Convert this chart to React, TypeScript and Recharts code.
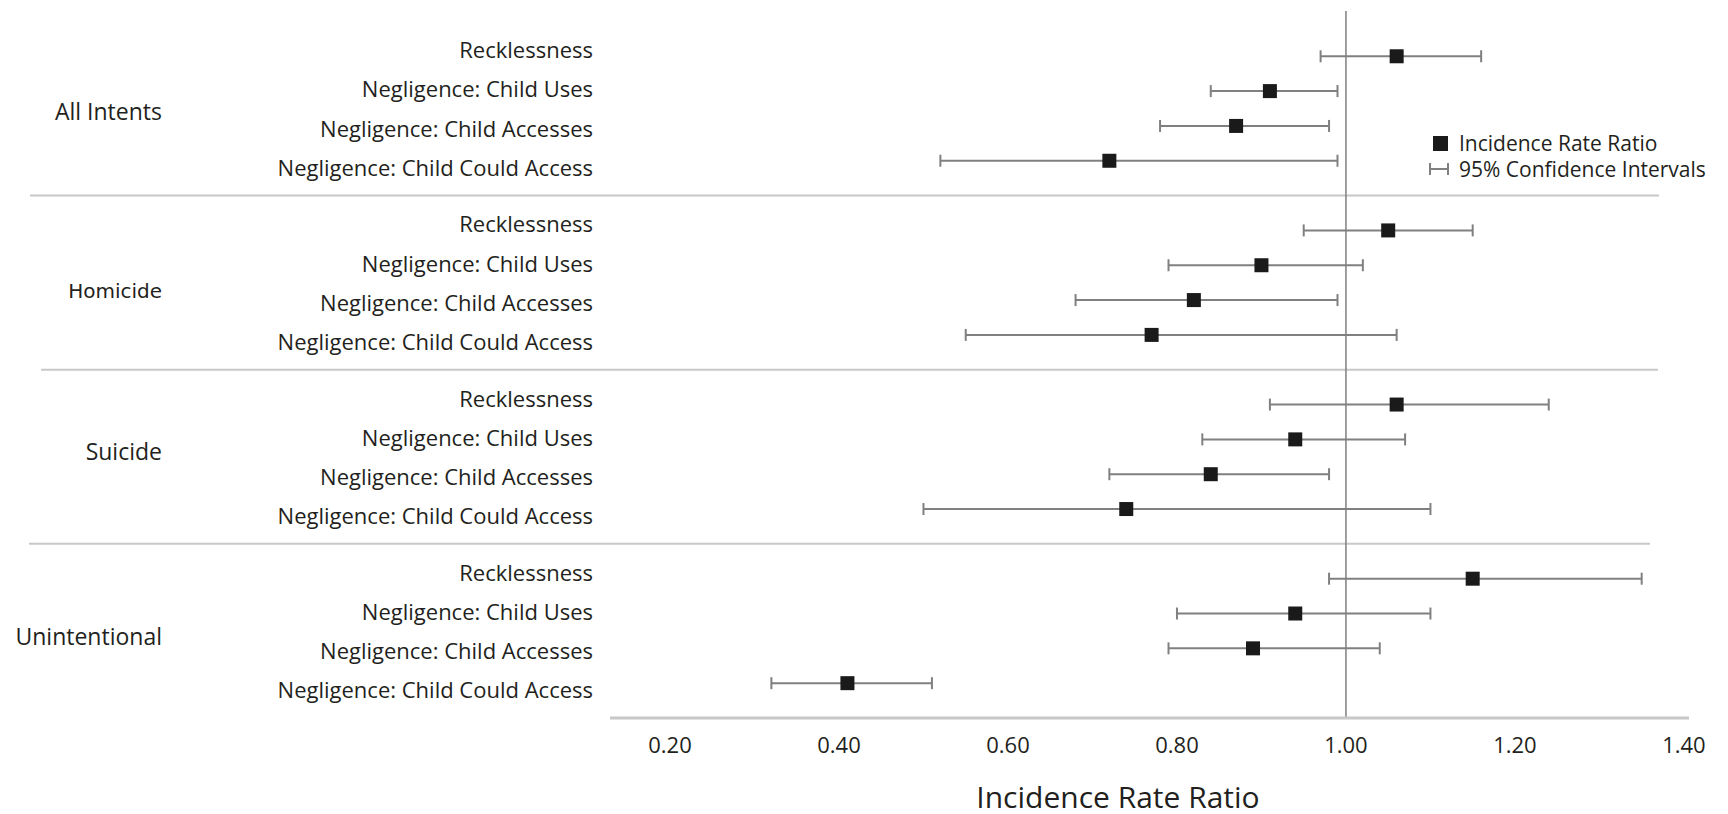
import { ScatterChart, Scatter, XAxis, YAxis, ErrorBar, ReferenceLine } from 'recharts';

const groups = ['All Intents', 'Homicide', 'Suicide', 'Unintentional'];
const measures = [
  'Recklessness',
  'Negligence: Child Uses',
  'Negligence: Child Accesses',
  'Negligence: Child Could Access',
];

// incidence rate ratios and 95% CI, one array per intent group (order = measures)
const allIntentsIrr = [1.06, 0.91, 0.87, 0.72];
const allIntentsLow = [0.97, 0.84, 0.78, 0.52];
const allIntentsHigh = [1.16, 0.99, 0.98, 0.99];

const homicideIrr = [1.05, 0.9, 0.82, 0.77];
const homicideLow = [0.95, 0.79, 0.68, 0.55];
const homicideHigh = [1.15, 1.02, 0.99, 1.06];

const suicideIrr = [1.06, 0.94, 0.84, 0.74];
const suicideLow = [0.91, 0.83, 0.72, 0.5];
const suicideHigh = [1.24, 1.07, 0.98, 1.1];

const unintentionalIrr = [1.15, 0.94, 0.89, 0.41];
const unintentionalLow = [0.98, 0.8, 0.79, 0.32];
const unintentionalHigh = [1.35, 1.1, 1.04, 0.51];

const xTicks = [0.2, 0.4, 0.6, 0.8, 1.0, 1.2, 1.4];

const groupSeries = [
  [allIntentsIrr, allIntentsLow, allIntentsHigh],
  [homicideIrr, homicideLow, homicideHigh],
  [suicideIrr, suicideLow, suicideHigh],
  [unintentionalIrr, unintentionalLow, unintentionalHigh],
];

const STEP = measures.length + 1; // one empty slot between groups

type Row = { slot: number; mi: number; group: string; label: string; irr: number; err: [number, number] };

const rows: Row[] = [];
groupSeries.forEach(([irr, low, high], gi) => {
  measures.forEach((m, mi) => {
    rows.push({
      slot: gi * STEP + mi,
      mi,
      group: groups[gi],
      label: m,
      irr: irr[mi],
      err: [irr[mi] - low[mi], high[mi] - irr[mi]],
    });
  });
});

const groupCenters = groups.map((_, gi) => gi * STEP + (measures.length - 1) / 2);
const separators = groups.slice(1).map((_, i) => (i + 1) * STEP - 1);

const FONT = '"Open Sans", sans-serif';
const TEXT = '#231f20';

// small per-label nudges seen in the original layout
const groupLabelDy = [11, 15, 3, 14];
const groupLabelSize = [23, 20, 23, 23];
const separatorSpan: [number, number][] = [[30, 1659], [41, 1658], [29, 1650]];

function YTick(props: any) {
  const { y, payload } = props;
  const v = payload.value;
  const gi = groupCenters.indexOf(v);
  if (gi >= 0) {
    return (
      <text x={162} y={y + groupLabelDy[gi]} textAnchor="end" fill={TEXT}
        fontFamily={gi === 1 ? '"DejaVu Sans", sans-serif' : FONT} fontSize={groupLabelSize[gi]}>
        {groups[gi]}
      </text>
    );
  }
  const row = rows.find((r) => r.slot === v);
  if (!row) return null;
  // the row labels are spread slightly wider than the marker rows
  return (
    <text x={593} y={y + 2 + row.mi * 4.3} textAnchor="end" fill={TEXT} fontFamily={FONT} fontSize={22}>
      {row.label}
    </text>
  );
}

function Square(props: any) {
  const { cx, cy } = props;
  return <rect x={cx - 7} y={cy - 7} width={14} height={14} fill="#1a1a1a" />;
}

export default function App() {
  const yTicks = [...rows.map((r) => r.slot), ...groupCenters];
  return (
    <div style={{ position: 'absolute', left: 0, top: 0, width: 1728, height: 814, background: '#fff' }}>
      <ScatterChart width={1728} height={814} margin={{ top: 11, right: 39, bottom: 0, left: 0 }}>
        <XAxis
          type="number"
          dataKey="irr"
          domain={[0.129, 1.406]}
          allowDataOverflow
          ticks={xTicks}
          interval={0}
          tickFormatter={(v: number) => v.toFixed(2)}
          height={96}
          axisLine={{ stroke: '#c8c8c8', strokeWidth: 3 }}
          tickLine={false}
          tickSize={0}
          tickMargin={19}
          tick={{ fill: TEXT, fontSize: 22, fontFamily: FONT }}
        />
        <YAxis
          type="number"
          dataKey="slot"
          domain={[-1.3, 19]}
          allowDataOverflow
          reversed
          width={610}
          ticks={yTicks}
          interval={0}
          axisLine={false}
          tickLine={false}
          tick={<YTick />}
        />
        {separators.map((s, i) => (
          <ReferenceLine
            key={s}
            y={s}
            ifOverflow="visible"
            shape={(p: any) => (
              <line x1={separatorSpan[i][0]} x2={separatorSpan[i][1]} y1={p.y1} y2={p.y1}
                stroke="#c8c8c8" strokeWidth={2} />
            )}
          />
        ))}
        <ReferenceLine x={1} stroke="#7f7f7f" strokeWidth={1.5} />
        <Scatter data={rows} isAnimationActive={false} shape={<Square />}>
          <ErrorBar dataKey="err" direction="x" width={6} stroke="#808080" strokeWidth={2} />
        </Scatter>
      </ScatterChart>

      <div
        style={{
          position: 'absolute', left: 968, top: 777, width: 300, textAlign: 'center',
          fontFamily: FONT, fontSize: 30, lineHeight: '40px', color: TEXT,
        }}
      >
        Incidence Rate Ratio
      </div>

      <div
        style={{
          position: 'absolute', left: 1428, top: 130, fontFamily: FONT, fontSize: 21,
          lineHeight: '26px', color: TEXT, whiteSpace: 'nowrap',
        }}
      >
        <div style={{ display: 'flex', alignItems: 'center', height: 26 }}>
          <span style={{ display: 'inline-block', width: 15, height: 15, background: '#1a1a1a', marginLeft: 5, marginRight: 11 }} />
          Incidence Rate Ratio
        </div>
        <div style={{ display: 'flex', alignItems: 'center', height: 26 }}>
          <svg width={31} height={14} style={{ display: 'block' }}>
            <line x1={2} x2={20} y1={7} y2={7} stroke="#808080" strokeWidth={2} />
            <line x1={2} x2={2} y1={1} y2={13} stroke="#808080" strokeWidth={2} />
            <line x1={20} x2={20} y1={1} y2={13} stroke="#808080" strokeWidth={2} />
          </svg>
          95% Confidence Intervals
        </div>
      </div>
    </div>
  );
}
